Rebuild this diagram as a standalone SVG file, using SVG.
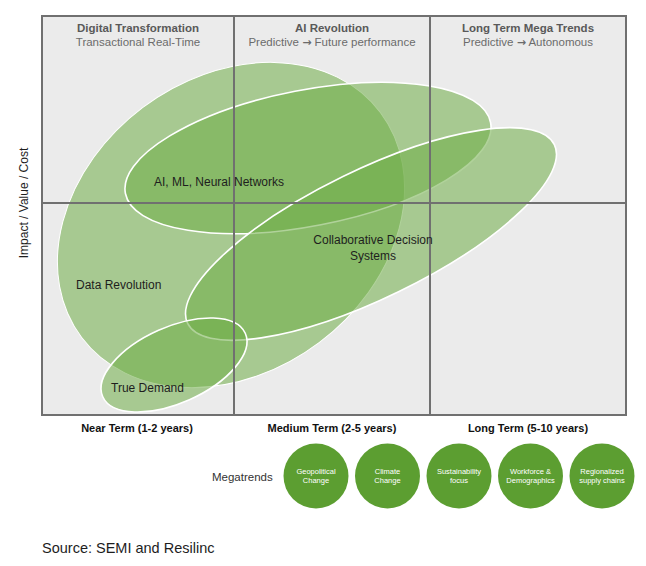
<svg xmlns="http://www.w3.org/2000/svg" width="646" height="566" viewBox="0 0 646 566">
<style>
text{font-family:"Liberation Sans",Arial,sans-serif}
.hd{font-size:11.5px;font-weight:bold;fill:#595959;text-anchor:middle}
.sub{font-size:11.5px;fill:#6b6b6b;text-anchor:middle}
.arr{font-family:"DejaVu Sans",sans-serif;font-weight:bold;font-size:11px}
.ax{font-size:11px;font-weight:bold;fill:#111;text-anchor:middle}
.lbl{font-size:12px;fill:#1e1e1e}
.grid{stroke:#707070;stroke-width:2;fill:none}
.ell{fill:#70ad47;fill-opacity:0.55;stroke:#ffffff;stroke-width:1.6}
.mt{fill:#5c9e31}
.mtt{font-size:7.5px;fill:#ffffff;text-anchor:middle}
</style>
<rect x="0" y="0" width="646" height="566" fill="#ffffff"/>
<g id="chart">
<rect x="42" y="16" width="584" height="399" fill="#ebebeb"/>
</g>
<g id="headers">
<text class="hd" x="138" y="32">Digital Transformation</text>
<text class="sub" x="138" y="46">Transactional Real-Time</text>
<text class="hd" x="332" y="32">AI Revolution</text>
<text class="sub" x="332" y="46">Predictive <tspan class="arr">→</tspan> Future performance</text>
<text class="hd" x="528" y="32">Long Term Mega Trends</text>
<text class="sub" x="528" y="46">Predictive <tspan class="arr">→</tspan> Autonomous</text>
</g>
<g id="ellipses">
<g id="data-revolution"><ellipse class="ell" style="stroke-width:1" cx="231" cy="225" rx="187" ry="147" transform="rotate(-37 231 225)"/></g>
<g id="ai-ml"><ellipse class="ell" cx="308" cy="158" rx="186" ry="68" transform="rotate(-11 308 158)"/></g>
<g id="collab"><ellipse class="ell" cx="371" cy="234" rx="204" ry="64" transform="rotate(-26 371 234)"/></g>
<g id="true-demand"><ellipse class="ell" cx="174" cy="365" rx="78" ry="38" transform="rotate(-24 174 365)"/></g>
</g>
<g id="connectors">
<line class="grid" x1="42" y1="203" x2="626" y2="203"/>
<line class="grid" x1="234" y1="16" x2="234" y2="415"/>
<line class="grid" x1="430" y1="16" x2="430" y2="415"/>
<rect class="grid" x="42" y="16" width="584" height="399"/>
</g>
<g id="labels">
<text class="lbl" x="154" y="186">AI, ML, Neural Networks</text>
<text class="lbl" x="373" y="244" text-anchor="middle">Collaborative Decision</text>
<text class="lbl" x="373" y="260" text-anchor="middle">Systems</text>
<text class="lbl" x="76" y="289">Data Revolution</text>
<text class="lbl" x="111" y="392">True Demand</text>
</g>
<g id="axes">
<text class="ax" x="137" y="432">Near Term (1-2 years)</text>
<text class="ax" x="332" y="432">Medium Term (2-5 years)</text>
<text class="ax" x="528" y="432">Long Term (5-10 years)</text>
<text x="28" y="203" transform="rotate(-90 28 203)" text-anchor="middle" style="font-size:12px;fill:#1e1e1e">Impact / Value / Cost</text>
</g>
<g id="megatrends">
<text x="212" y="481" style="font-size:11.5px;fill:#333">Megatrends</text>
<g id="mt1"><circle class="mt" cx="316" cy="476" r="32.5"/><text class="mtt" x="316" y="474">Geopolitical</text><text class="mtt" x="316" y="483">Change</text></g>
<g id="mt2"><circle class="mt" cx="387.5" cy="476" r="32.5"/><text class="mtt" x="387.5" y="474">Climate</text><text class="mtt" x="387.5" y="483">Change</text></g>
<g id="mt3"><circle class="mt" cx="459" cy="476" r="32.5"/><text class="mtt" x="459" y="474">Sustainability</text><text class="mtt" x="459" y="483">focus</text></g>
<g id="mt4"><circle class="mt" cx="530.5" cy="476" r="32.5"/><text class="mtt" x="530.5" y="474">Workforce &amp;</text><text class="mtt" x="530.5" y="483">Demographics</text></g>
<g id="mt5"><circle class="mt" cx="602" cy="476" r="32.5"/><text class="mtt" x="602" y="474">Regionalized</text><text class="mtt" x="602" y="483">supply chains</text></g>
</g>
<text x="42" y="553" style="font-size:14.5px;fill:#1e1e1e">Source: SEMI and Resilinc</text>
</svg>
